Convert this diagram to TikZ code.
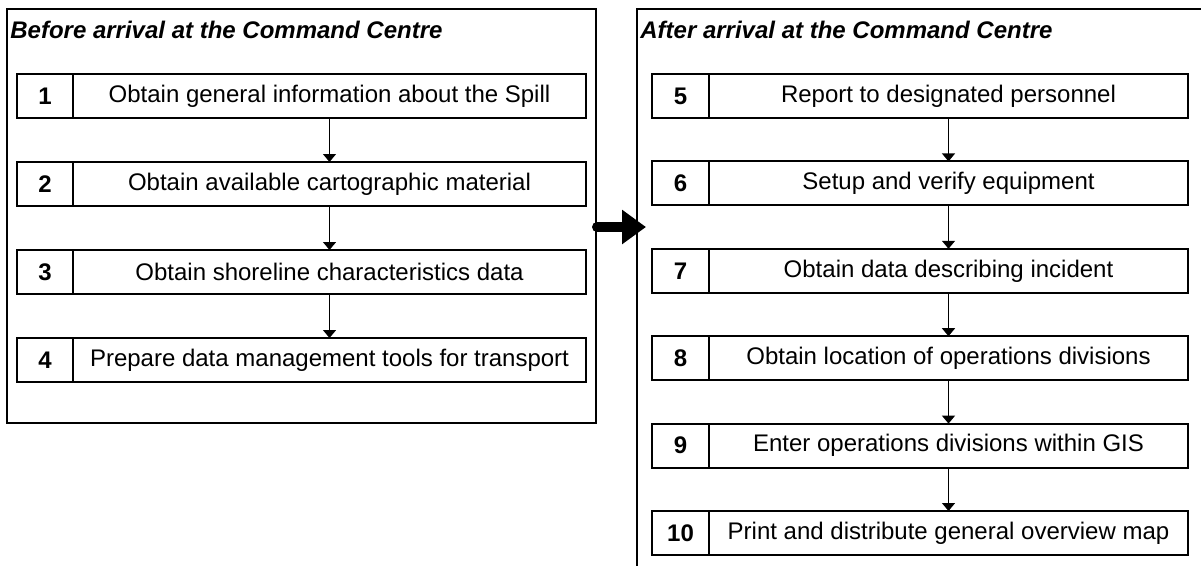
\documentclass[tikz,border=0pt]{standalone}
\usepackage{fontspec}
\setmainfont{Liberation Sans}
\usetikzlibrary{positioning,arrows.meta}
\tikzset{
  panel/.style={draw,line width=0.6pt},
  paneltitle/.style={anchor=west,inner sep=0pt,font=\bfseries\itshape\fontsize{12}{14}\selectfont},
  numcell/.style={draw,line width=1pt,outer sep=0pt,minimum height=22pt,inner sep=0pt,font=\bfseries\fontsize{12}{14}\selectfont},
  stepcell/.style={draw,line width=1pt,outer sep=0pt,minimum height=22pt,inner sep=0pt,font=\fontsize{12}{14}\selectfont},
  flowarrow/.style={line width=0.65pt,-{Triangle[length=4pt,width=6.5pt]}},
  bigarrow/.style={line width=5pt,line cap=round,-{Triangle[length=12pt,width=16.5pt]}}
}
\begin{document}
\begin{tikzpicture}[x=0.5pt,y=-0.5pt]
			\useasboundingbox (0,0) rectangle (1201,570);
			% panels
			\draw[panel] (7,9) rectangle (596,423);
			\draw[panel] (1201,9) -- (637,9) -- (637,566);
			\node[paneltitle] (before) at (10,30) {Before arrival at the Command Centre};
			\node[paneltitle] (after) at (640,30) {After arrival at the Command Centre};
			% before arrival
			\node[numcell,minimum width=28pt] (n1) at (45,96) {1};
			\node[stepcell,minimum width=256.5pt,right=0pt of n1] (s1) {Obtain general information about the Spill};
			\node[numcell,minimum width=28pt] (n2) at (45,184) {2};
			\node[stepcell,minimum width=256.5pt,right=0pt of n2] (s2) {Obtain available cartographic material};
			\node[numcell,minimum width=28pt] (n3) at (45,272) {3};
			\node[stepcell,minimum width=256.5pt,right=0pt of n3] (s3) {Obtain shoreline characteristics data};
			\node[numcell,minimum width=28pt] (n4) at (45,360) {4};
			\node[stepcell,minimum width=256.5pt,right=0pt of n4] (s4) {Prepare data management tools for transport};
			\draw[flowarrow] (s1) -- (s2);
			\draw[flowarrow] (s2) -- (s3);
			\draw[flowarrow] (s3) -- (s4);
			% after arrival
			\node[numcell,minimum width=28.5pt] (n5) at (680.5,96) {5};
			\node[stepcell,minimum width=239.5pt,right=0pt of n5] (s5) {Report to designated personnel};
			\node[numcell,minimum width=28.5pt] (n6) at (680.5,183.4) {6};
			\node[stepcell,minimum width=239.5pt,right=0pt of n6] (s6) {Setup and verify equipment};
			\node[numcell,minimum width=28.5pt] (n7) at (680.5,270.8) {7};
			\node[stepcell,minimum width=239.5pt,right=0pt of n7] (s7) {Obtain data describing incident};
			\node[numcell,minimum width=28.5pt] (n8) at (680.5,358.2) {8};
			\node[stepcell,minimum width=239.5pt,right=0pt of n8] (s8) {Obtain location of operations divisions};
			\node[numcell,minimum width=28.5pt] (n9) at (680.5,445.6) {9};
			\node[stepcell,minimum width=239.5pt,right=0pt of n9] (s9) {Enter operations divisions within GIS};
			\node[numcell,minimum width=28.5pt] (n10) at (680.5,533) {10};
			\node[stepcell,minimum width=239.5pt,right=0pt of n10] (s10) {Print and distribute general overview map};
			\draw[flowarrow] (s5) -- (s6);
			\draw[flowarrow] (s6) -- (s7);
			\draw[flowarrow] (s7) -- (s8);
			\draw[flowarrow] (s8) -- (s9);
			\draw[flowarrow] (s9) -- (s10);
			% between the panels
			\coordinate (gofrom) at (597,227);
			\coordinate (goto) at (646,227);
			\draw[bigarrow] (gofrom) -- (goto);
		\end{tikzpicture}
\end{document}
